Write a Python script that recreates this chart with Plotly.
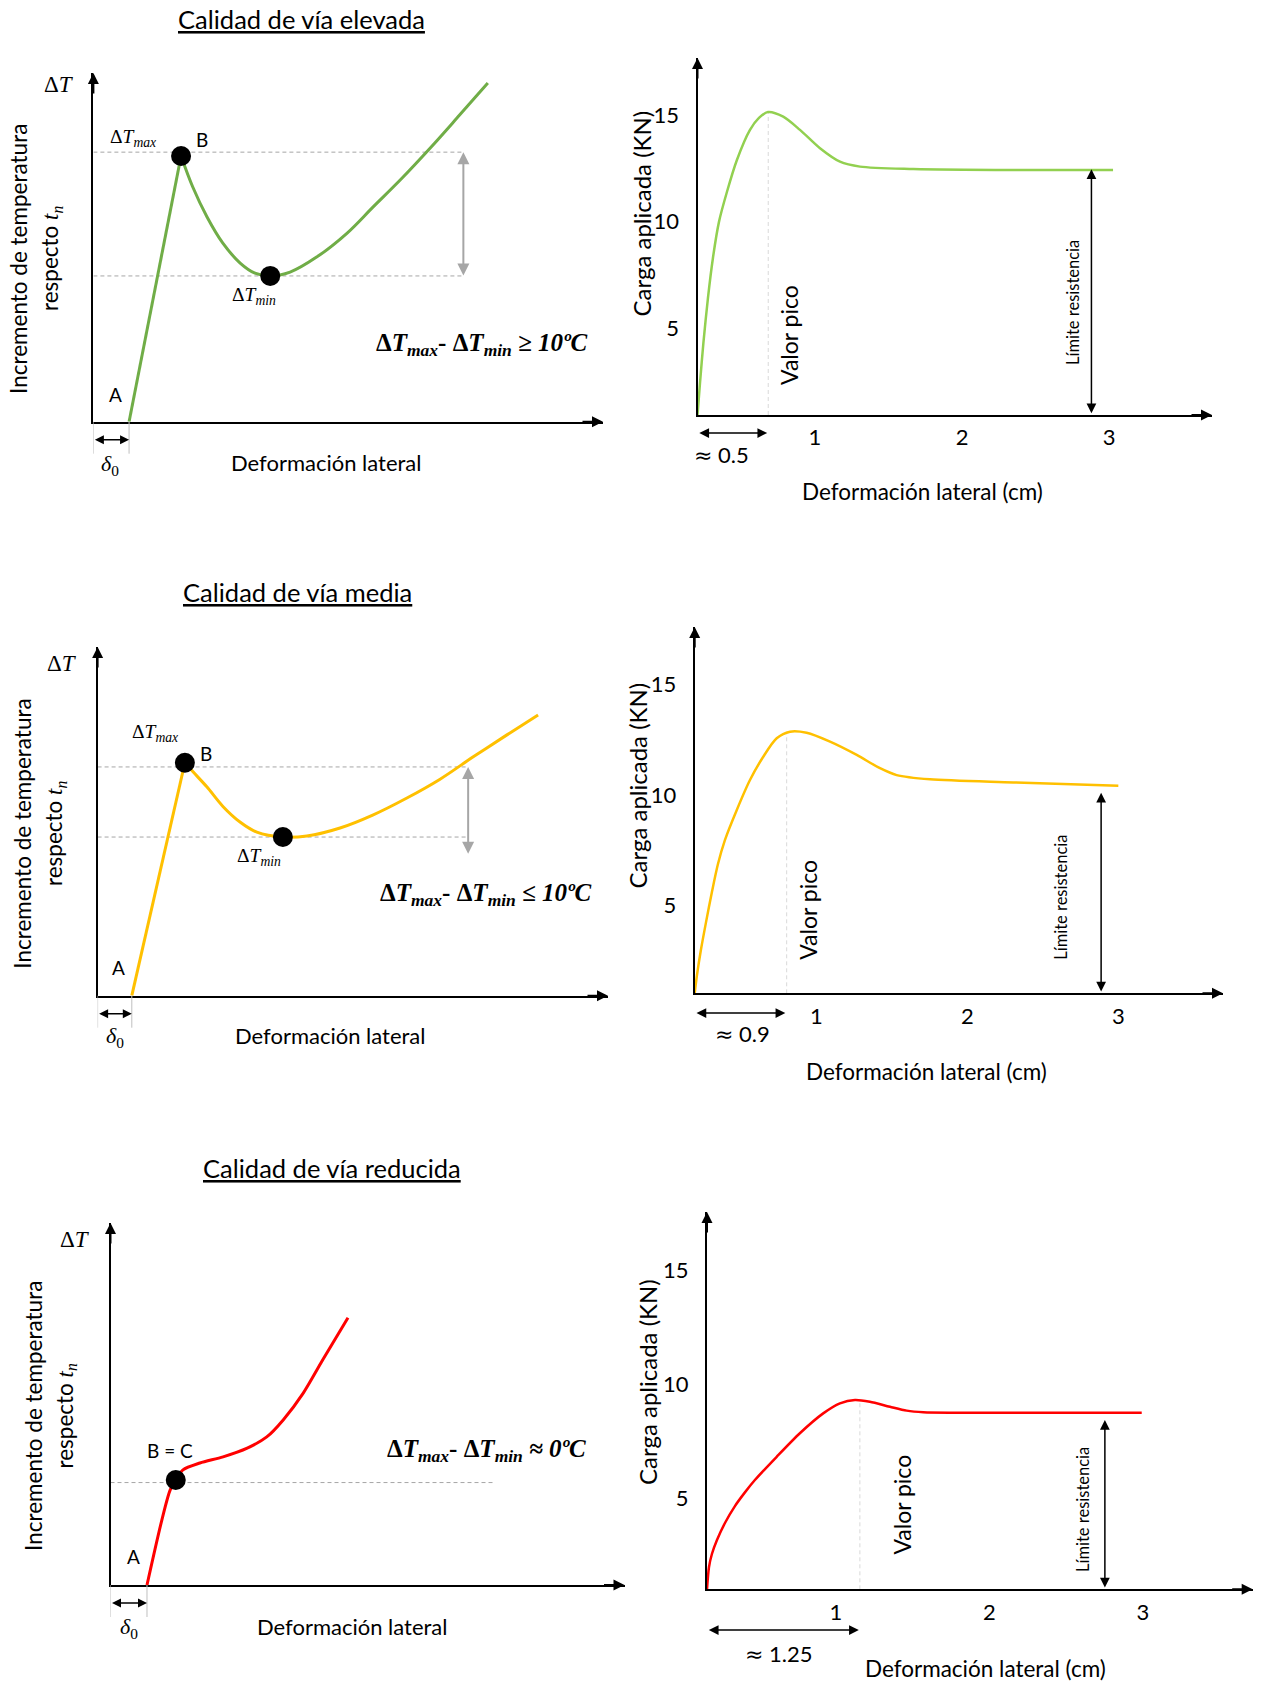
import plotly.graph_objects as go

W, H = 1264, 1682
SANS = "Lato"
SERIF = "Liberation Serif"

# ---------------- values ----------------
# left column: schematic ΔT vs deformación lateral (arbitrary 0-10 units)
elev_x = [0.70, 1.72, 1.95, 2.23, 2.54, 2.88, 3.17, 3.47, 3.86, 4.38, 4.98, 5.49, 6.02, 6.61, 7.19, 7.74]
elev_y = [0.0, 7.62, 6.73, 5.87, 5.12, 4.55, 4.26, 4.18, 4.29, 4.72, 5.41, 6.16, 6.93, 7.85, 8.80, 9.71]
elev_dots_x = [1.72, 3.47]
elev_dots_y = [7.62, 4.18]
elev_levels = [7.73, 4.18]

media_x = [0.67, 1.71, 1.87, 2.14, 2.46, 2.79, 3.12, 3.63, 4.10, 4.75, 5.39, 6.06, 6.71, 7.36, 8.02, 8.63]
media_y = [0.0, 6.68, 6.42, 5.99, 5.42, 4.98, 4.69, 4.55, 4.58, 4.81, 5.18, 5.67, 6.21, 6.85, 7.48, 8.05]
media_dots_x = [1.71, 3.63]
media_dots_y = [6.68, 4.55]
media_levels = [6.56, 4.55]

red_x = [0.71, 1.00, 1.16, 1.27, 1.41, 1.74, 2.19, 2.66, 3.04, 3.36, 3.75, 4.13, 4.62]
red_y = [0.0, 1.80, 2.62, 2.90, 3.18, 3.37, 3.54, 3.78, 4.09, 4.56, 5.30, 6.22, 7.38]
red_dots_x = [1.27]
red_dots_y = [2.90]
red_levels = [2.83]

# right column: carga aplicada (KN) vs deformación lateral (cm)
carga_elev_x = [0.201, 0.218, 0.241, 0.272, 0.306, 0.347, 0.401, 0.469, 0.558, 0.619, 0.680,
                0.784, 0.898, 1.034, 1.170, 1.306, 1.669, 2.347, 3.027]
carga_elev_y = [0.94, 2.44, 4.31, 6.42, 8.30, 9.99, 11.39, 12.89, 14.30, 14.86, 15.14,
                14.92, 14.30, 13.44, 12.81, 12.58, 12.47, 12.42, 12.42]
carga_media_x = [0.195, 0.210, 0.236, 0.270, 0.309, 0.349, 0.395, 0.473, 0.561, 0.649, 0.738, 0.826,
                 0.936, 1.091, 1.268, 1.422, 1.532, 1.753, 2.305, 3.00]
carga_media_y = [1.05, 1.87, 3.00, 4.26, 5.62, 6.88, 7.96, 9.31, 10.67, 11.72, 12.55, 12.85,
                 12.80, 12.40, 11.80, 11.20, 10.89, 10.70, 10.56, 10.41]
carga_red_x = [0.160, 0.173, 0.192, 0.225, 0.277, 0.342, 0.407, 0.472, 0.614, 0.765, 0.917, 1.026,
               1.124, 1.221, 1.352, 1.461, 1.569, 1.786, 2.992]
carga_red_y = [1.025, 2.00, 2.57, 3.18, 3.93, 4.67, 5.27, 5.81, 6.83, 7.86, 8.73, 9.17,
               9.32, 9.24, 9.02, 8.85, 8.78, 8.76, 8.76]

# peak (valor pico) and límite resistencia markers
peak_x = {2: 0.682, 4: 0.804, 6: 1.156}
peak_y = {2: 15.16, 4: 12.85, 6: 9.30}
approx_end = {2: 0.675, 4: 0.795, 6: 1.149}
approx_txt = {2: "0.5", 4: "0.9", 6: "1.25"}
limit_x = {2: 2.88, 4: 2.886, 6: 2.752}
limit_top = {2: 12.46, 4: 10.10, 6: 8.44}

x_ticks = [1, 2, 3]
y_ticks = [5, 10, 15]

# ---------------- panel geometry (pixels) ----------------
panels = {
    1: dict(o=(93.4, 421.7), tip=(603, 73), xr=[0, 10], yr=[0, 10]),
    2: dict(o=(697.5, 415), tip=(1212, 58), xr=[0.201, 3.70], yr=[0.94, 17.67]),
    3: dict(o=(97.6, 995.7), tip=(608, 647), xr=[0, 10], yr=[0, 10]),
    4: dict(o=(694.7, 993.3), tip=(1223, 627), xr=[0.195, 3.693], yr=[1.05, 17.57]),
    5: dict(o=(110.5, 1585), tip=(624.5, 1223), xr=[0, 10], yr=[0, 10]),
    6: dict(o=(707, 1589.3), tip=(1252.7, 1212), xr=[0.16, 3.715], yr=[1.025, 17.55]),
}


def ids(i):
    s = '' if i == 1 else str(i)
    return 'x' + s, 'y' + s


fig = go.Figure()


def text(s, x, y, size=20, family=SANS, angle=0):
    fig.add_annotation(text=s, x=x / W, y=1 - y / H, xref='paper', yref='paper',
                       showarrow=False, textangle=angle, xanchor='center', yanchor='middle',
                       font=dict(family=family, size=size, color='black'))


def arrow(x, y, ax, ay, xref, yref, axref, ayref, color='black', width=1.5, size=1.4, both=True):
    fig.add_annotation(x=x, y=y, ax=ax, ay=ay, xref=xref, yref=yref, axref=axref, ayref=ayref,
                       text='', showarrow=True, arrowhead=2, startarrowhead=2,
                       arrowsize=size, startarrowsize=size, arrowwidth=width, arrowcolor=color,
                       arrowside='end+start' if both else 'end')


# axes with arrow tips
for i, p in panels.items():
    xid, yid = ids(i)
    ox, oy = p['o']
    tx, ty = p['tip']
    right = i % 2 == 0
    common = dict(showline=True, linecolor='black', linewidth=2, showgrid=False, zeroline=False,
                  ticks='', fixedrange=True, showticklabels=right,
                  tickfont=dict(family=SANS, size=22, color='black'))
    fig.update_layout(**{
        'xaxis' + ('' if i == 1 else str(i)): dict(domain=[ox / W, tx / W], range=p['xr'], anchor=yid,
                                                   tickvals=x_ticks, ticklabelstandoff=2, **common),
        'yaxis' + ('' if i == 1 else str(i)): dict(domain=[1 - oy / H, 1 - ty / H], range=p['yr'], anchor=xid,
                                                   tickvals=y_ticks, ticklabelstandoff=12, **common),
    })
    fig.add_annotation(x=1, y=0, xref=xid + ' domain', yref=yid + ' domain', ax=-22, ay=0,
                       text='', showarrow=True, arrowhead=2, arrowsize=1.1, arrowwidth=2, arrowcolor='black')
    fig.add_annotation(x=0, y=1, xref=xid + ' domain', yref=yid + ' domain', ax=0, ay=22,
                       text='', showarrow=True, arrowhead=2, arrowsize=1.1, arrowwidth=2, arrowcolor='black')

# ---------------- left column curves ----------------
left = [
    (1, elev_x, elev_y, elev_dots_x, elev_dots_y, elev_levels, '#70AD47', True, 7.26, 4.15),
    (3, media_x, media_y, media_dots_x, media_dots_y, media_levels, '#FFC000', True, 7.26, 4.03),
    (5, red_x, red_y, red_dots_x, red_dots_y, red_levels, '#FF0000', False, 7.45, None),
]
for i, xs, ys, dx, dy, levels, color, cusp, xend, arrow_low in left:
    xid, yid = ids(i)
    for lv in levels:
        fig.add_shape(type='line', xref=xid, yref=yid, x0=0, x1=xend, y0=lv, y1=lv, layer='below',
                      line=dict(color='#A6A6A6', width=1, dash='4px,3px'))
    if cusp:
        fig.add_trace(go.Scatter(x=xs[:2], y=ys[:2], mode='lines', xaxis=xid, yaxis=yid,
                                 line=dict(color=color, width=3)))
        fig.add_trace(go.Scatter(x=xs[1:], y=ys[1:], mode='lines', xaxis=xid, yaxis=yid,
                                 line=dict(color=color, width=3, shape='spline')))
    else:
        fig.add_trace(go.Scatter(x=xs, y=ys, mode='lines', xaxis=xid, yaxis=yid,
                                 line=dict(color=color, width=3, shape='spline', smoothing=0.8)))
    fig.add_trace(go.Scatter(x=dx, y=dy, mode='markers', xaxis=xid, yaxis=yid,
                             marker=dict(color='black', size=20)))
    if arrow_low is not None:
        arrow(xend, levels[0], xend, arrow_low, xid, yid, xid, yid, color='#A6A6A6', width=2, size=1.2)
    # δ0 marker under the axis
    oy = panels[i]['o'][1]
    for xv in [0, xs[0]]:
        fig.add_shape(type='line', xref=xid, yref='paper', x0=xv, x1=xv, y0=1 - oy / H, y1=1 - (oy + 32) / H,
                      line=dict(color='#BFBFBF', width=1))
    arrow(xs[0], 1 - (oy + 18) / H, 0, 0, xid, 'paper', xid, 'pixel', width=1.5, size=1.2)

# ---------------- right column curves ----------------
right = [
    (2, carga_elev_x, carga_elev_y, '#92D050'),
    (4, carga_media_x, carga_media_y, '#FFC000'),
    (6, carga_red_x, carga_red_y, '#FF0000'),
]
approx_y = {2: 433, 4: 1013, 6: 1630}
for i, xs, ys, color in right:
    xid, yid = ids(i)
    y0 = panels[i]['yr'][0]
    fig.add_shape(type='line', xref=xid, yref=yid, x0=peak_x[i], x1=peak_x[i], y0=y0, y1=peak_y[i],
                  layer='below', line=dict(color='#D9D9D9', width=1, dash='4px,3px'))
    fig.add_trace(go.Scatter(x=xs, y=ys, mode='lines', xaxis=xid, yaxis=yid,
                             line=dict(color=color, width=2.5, shape='spline', smoothing=0.8)))
    arrow(limit_x[i], limit_top[i], limit_x[i], y0 + 0.01, xid, yid, xid, yid, width=1.5, size=1.3)
    arrow(approx_end[i], 1 - approx_y[i] / H, panels[i]['xr'][0] + 0.002, 0, xid, 'paper', xid, 'pixel',
          width=1.5, size=1.3)

# ---------------- texts ----------------
dT = 'Δ<i>T</i>'
dTmax = 'Δ<i>T<sub>max</sub></i>'
dTmin = 'Δ<i>T<sub>min</sub></i>'
tn = 'respecto <span style="font-family:Liberation Serif"><i>t<sub>n</sub></i></span>'

text('<u>Calidad de vía elevada</u>', 301.5, 19, size=25.5)
text('<u>Calidad de vía media</u>', 297, 592, size=25.5)
text('<u>Calidad de vía reducida</u>', 331.6, 1168, size=25.5)

for (x1, x2, yc), (dtx, dty) in zip([(19, 51, 259), (21.7, 55, 834), (33, 65.5, 1416)],
                                    [(59, 84), (62, 664), (75, 1239)]):
    text('Incremento de temperatura', x1, yc, size=22.5, angle=-90)
    text(tn, x2, yc, size=22.5, angle=-90)
    text(dT, dtx, dty, size=23, family=SERIF)

# point labels
text('A', 115, 394, size=19)
text('A', 118, 967, size=19)
text('A', 133, 1556, size=19)
text('B', 202, 139.5, size=19)
text('B', 206, 753, size=19)
text('B = C', 169.5, 1450, size=19)
text(dTmax, 133, 138, size=19.5, family=SERIF)
text(dTmax, 154.5, 733, size=19.5, family=SERIF)
text(dTmin, 254, 296, size=19.5, family=SERIF)
text(dTmin, 258.6, 857, size=19.5, family=SERIF)

text('<b>' + dTmax + '- ' + dTmin + ' <i>≥ 10ºC</i></b>', 482, 344.5, size=25, family=SERIF)
text('<b>' + dTmax + '- ' + dTmin + ' <i>≤ 10ºC</i></b>', 486, 894, size=25, family=SERIF)
text('<b>' + dTmax + '- ' + dTmin + ' <i>≈ 0ºC</i></b>', 486, 1450, size=25, family=SERIF)

for xd, yd in [(110.5, 465), (115, 1037), (129, 1628)]:
    text('<i>δ</i><sub>0</sub>', xd, yd, size=22, family=SERIF)
text('Deformación lateral', 326, 462.5, size=22)
text('Deformación lateral', 330.5, 1035.5, size=22)
text('Deformación lateral', 352, 1626, size=22)

# right column texts
for xc, yc in [(640.5, 214), (636.5, 786), (647, 1382)]:
    text('Carga aplicada (KN)', xc, yc, size=24, angle=-90)
for xc, yc in [(789, 335), (807.8, 910), (901.6, 1505)]:
    text('Valor pico', xc, yc, size=23, angle=-90)
for xc, yc in [(1073, 303), (1060.8, 897), (1083, 1510)]:
    text('Límite resistencia', xc, yc, size=16.5, angle=-90)
for (xc, yc), i in zip([(721, 454), (742.4, 1033), (779, 1653)], [2, 4, 6]):
    text('<span style="font-family:DejaVu Sans">≈</span> ' + approx_txt[i], xc, yc, size=22)
for xc, yc in [(922, 491), (926, 1071), (985, 1668)]:
    text('Deformación lateral (cm)', xc, yc, size=22.5)

fig.update_layout(width=W, height=H, margin=dict(l=0, r=0, t=0, b=0), showlegend=False,
                  plot_bgcolor='white', paper_bgcolor='white')

fig.write_html("out.html", config={'displayModeBar': False},
               post_script="document.body.style.margin='0px';")
